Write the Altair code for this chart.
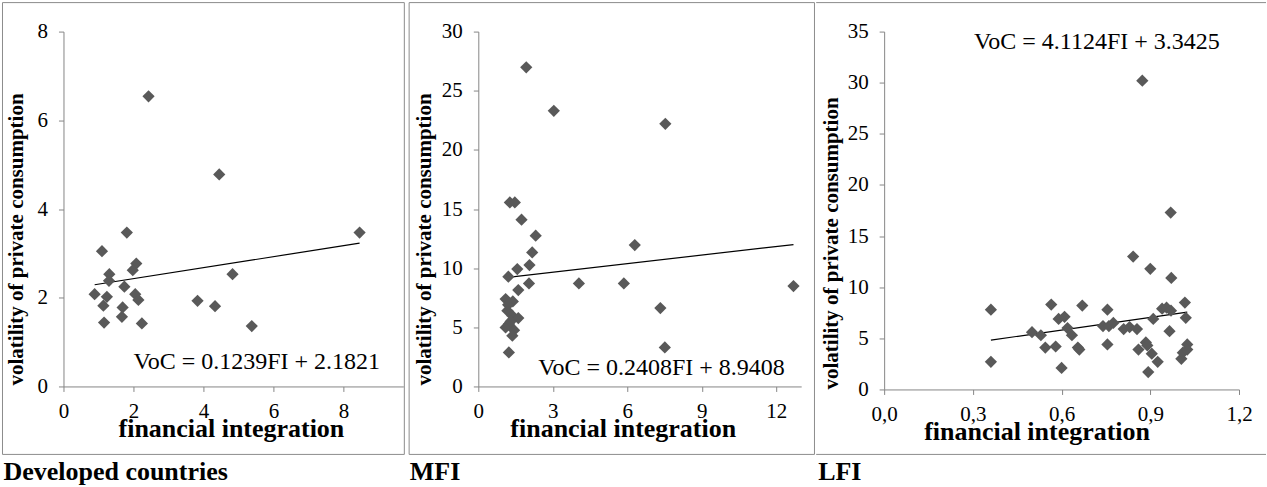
import altair as alt
import pandas as pd

FONT = "Liberation Serif"
POINT_COLOR = "#595959"
AXIS_COLOR = "#868686"
BORDER_COLOR = "#8c8c8c"

# Developed countries
dev_fi = [2.43, 4.45, 8.46, 1.81, 1.10, 2.08, 1.98, 1.31, 1.30, 1.74, 4.83, 0.89,
          1.24, 2.05, 2.14, 1.14, 1.69, 1.67, 1.16, 2.24, 3.83, 4.33, 5.38]
dev_voc = [6.54, 4.78, 3.47, 3.47, 3.05, 2.77, 2.62, 2.53, 2.38, 2.25, 2.53, 2.08,
           2.02, 2.08, 1.95, 1.82, 1.78, 1.57, 1.44, 1.42, 1.93, 1.81, 1.36]

# MFI
mfi_fi = [1.93, 3.04, 7.53, 1.27, 1.47, 1.74, 2.31, 2.17, 2.06, 1.57, 1.21, 2.04,
          1.61, 4.05, 5.86, 6.30, 12.69, 7.33, 7.51, 1.10, 1.39, 1.17, 1.37, 1.61,
          1.23, 1.10, 1.44, 1.37, 1.23, 1.20, 1.30]
mfi_voc = [26.98, 23.3, 22.2, 15.56, 15.56, 14.1, 12.74, 11.33, 10.26, 9.92, 9.28, 8.71,
           8.15, 8.71, 8.71, 11.95, 8.49, 6.63, 3.30, 7.39, 7.19, 6.40, 5.98, 5.78,
           5.27, 4.99, 4.76, 4.29, 2.88, 6.9, 5.5]

# LFI
lfi_fi = [0.361, 0.361, 0.50, 0.53, 0.545, 0.58, 0.565, 0.59, 0.61, 0.60, 0.62, 0.635,
          0.655, 0.66, 0.67, 0.74, 0.755, 0.76, 0.755, 0.775, 0.81, 0.83, 0.842, 0.855,
          0.86, 0.873, 0.885, 0.89, 0.893, 0.90, 0.905, 0.91, 0.925, 0.94, 0.955, 0.965,
          0.97, 0.969, 0.971, 1.005, 1.01, 1.017, 1.02, 1.025, 1.025]
lfi_voc = [7.8, 2.7, 5.6, 5.3, 4.1, 4.2, 8.3, 6.9, 7.1, 2.1, 6.0, 5.3,
           4.1, 3.9, 8.2, 6.2, 7.8, 6.2, 4.4, 6.5, 5.9, 6.1, 13.0, 5.9,
           3.9, 30.2, 4.6, 4.3, 1.7, 11.8, 3.5, 6.9, 2.7, 7.9, 8.0, 5.7,
           7.7, 17.3, 10.9, 3.0, 3.6, 8.5, 7.0, 4.4, 3.9]

# Fitted trend lines: (slope, intercept)
dev_fit = (0.1239, 2.1821)
mfi_fit = (0.2408, 8.9408)
lfi_fit = (4.1124, 3.3425)

one = pd.DataFrame({"k": [0]})


def label(text, x, y, size, bold=False, align="left", angle=0):
    kw = dict(text=text, font=FONT, fontSize=size, color="black", align=align,
              baseline="alphabetic")
    if bold:
        kw["fontWeight"] = "bold"
    if angle:
        kw["angle"] = angle
    return alt.Chart(one).mark_text(**kw).encode(x=alt.value(x), y=alt.value(y))


def panel(fi, voc, fit, xdom, xticks, ydom, yticks, width, height, eq, eq_xy,
          ytitle_xy, xtitle_xy, name, name_xy, frame, xlabel_expr=None):
    df = pd.DataFrame({"fi": fi, "voc": voc})
    slope, intercept = fit
    lo, hi = min(fi), max(fi)
    trend = pd.DataFrame({"fi": [lo, hi],
                          "voc": [slope * lo + intercept, slope * hi + intercept]})

    xaxis = dict(values=xticks, title=None, grid=False, domainColor=AXIS_COLOR,
                 tickColor=AXIS_COLOR, tickSize=5, labelFont=FONT, labelFontSize=21,
                 labelColor="black", labelPadding=9, labelFlush=False)
    if xlabel_expr:
        xaxis["labelExpr"] = xlabel_expr
    x = alt.X("fi:Q", scale=alt.Scale(domain=xdom, nice=False, zero=False),
              axis=alt.Axis(**xaxis))
    y = alt.Y("voc:Q", scale=alt.Scale(domain=ydom, nice=False, zero=False),
              axis=alt.Axis(values=yticks, title=None, grid=False,
                            domainColor=AXIS_COLOR, tickColor=AXIS_COLOR,
                            tickSize=5, labelFont=FONT, labelFontSize=21,
                            labelColor="black", labelPadding=11, labelFlush=False))

    pts = alt.Chart(df).mark_point(shape="diamond", filled=True, size=150,
                                   color=POINT_COLOR, opacity=1).encode(x=x, y=y)
    line = alt.Chart(trend).mark_line(color="black", strokeWidth=1.2).encode(x=x, y=y)

    layers = []
    fx1, fx2, fy1, fy2, left_edge, pad_right = frame
    if left_edge:
        layers.append(alt.Chart(one).mark_rect(filled=False, stroke=BORDER_COLOR,
                                               strokeWidth=1).encode(
            x=alt.value(fx1), x2=alt.value(fx2), y=alt.value(fy1), y2=alt.value(fy2)))
    else:
        for fy in (fy1, fy2):
            layers.append(alt.Chart(one).mark_rule(color=BORDER_COLOR,
                                                   strokeWidth=1).encode(
                x=alt.value(fx1), x2=alt.value(fx2), y=alt.value(fy)))
    if pad_right:
        layers.append(alt.Chart(one).mark_rect(opacity=0, strokeWidth=0).encode(
            x=alt.value(fx1), x2=alt.value(pad_right), y=alt.value(fy1),
            y2=alt.value(fy1 + 1)))

    layers += [
        line, pts,
        label(eq, eq_xy[0], eq_xy[1], 24),
        label("volatility of private consumption", ytitle_xy[0], ytitle_xy[1], 21,
              bold=True, angle=270),
        label("financial integration", xtitle_xy[0], xtitle_xy[1], 26, bold=True,
              align="center"),
        label(name, name_xy[0], name_xy[1], 26, bold=True),
    ]
    return alt.layer(*layers).properties(width=width, height=height)


p1 = panel(dev_fi, dev_voc, dev_fit, [0, 9.71], [0, 2, 4, 6, 8], [0, 8], [0, 2, 4, 6, 8],
           340, 355, "VoC = 0.1239FI + 2.1821", (70, 338), (-40, 354), (168, 406),
           "Developed countries", (-60, 449), (-61, 341, -29, 423, True, 345))

p2 = panel(mfi_fi, mfi_voc, mfi_fit, [0, 13], [0, 3, 6, 9, 12], [0, 30],
           [0, 5, 10, 15, 20, 25, 30], 323, 355, "VoC = 0.2408FI + 8.9408", (60, 344),
           (-47, 354), (145, 406), "MFI", (-68.5, 449),
           (-69.2, 336.3, -29, 423, True, None))

p3 = panel(lfi_fi, lfi_voc, lfi_fit, [0, 1.2], [0, 0.3, 0.6, 0.9, 1.2], [0, 35],
           [0, 5, 10, 15, 20, 25, 30, 35], 355, 358, "VoC = 4.1124FI + 3.3425", (90, 17),
           (-46, 358), (153, 409), "LFI", (-66, 449),
           (-68, 382, -29, 423, False, None),
           xlabel_expr="replace(format(datum.value, '.1f'), '.', ',')")

chart = alt.hconcat(p1, p2, p3, spacing=0).properties(
    padding={"left": 1.5, "top": 1.5, "right": 0, "bottom": 0},
    background="white",
).configure_view(strokeWidth=0)

chart.save("out.html", embed_options={"renderer": "svg", "actions": False})
